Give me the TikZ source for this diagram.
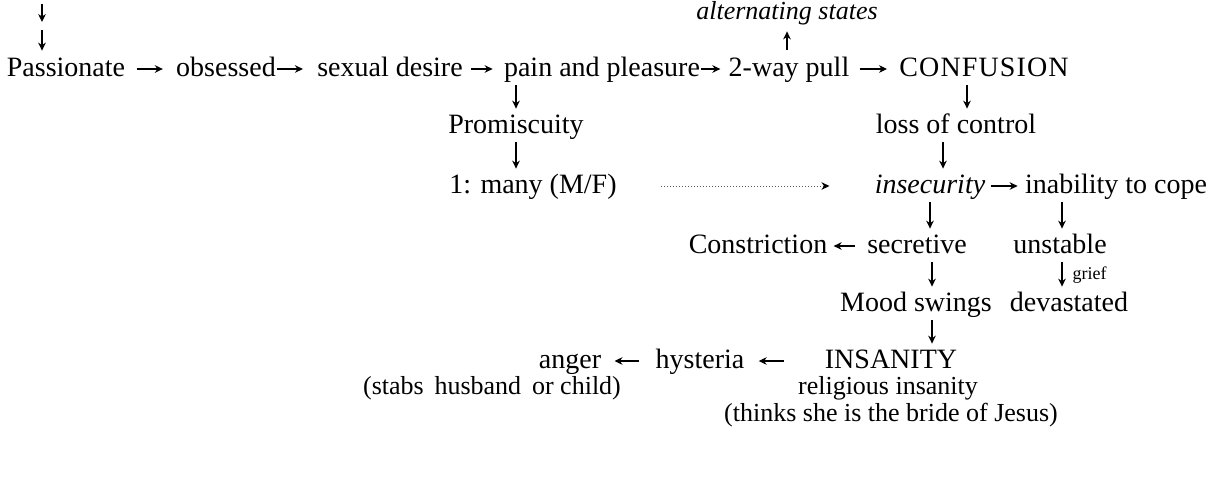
\documentclass[tikz,border=0pt]{standalone}
\usepackage{fontspec}
\setmainfont{Liberation Serif}
\usetikzlibrary{arrows.meta,calc}
\newcommand{\fs}{\fontsize{14}{17}\selectfont}
\newcommand{\fsb}{\fontsize{13}{16}\selectfont}
\newcommand{\fsmall}{\fontsize{9}{10}\selectfont}
\tikzset{
  lbl/.style={anchor=base, inner sep=0pt, font=\fs, text height=9.5pt, text depth=2.5pt},
  sublbl/.style={lbl, font=\fsb},
  arr/.style={-{Stealth[length=4pt,width=3.8pt]}, line width=0.6pt},
  varr/.style={arr, shorten <=2pt, shorten >=2.5pt},
  dotarr/.style={-{Stealth[length=4pt,width=3.8pt,color=black]}, densely dotted, line width=0.5pt, draw=black!65},
}
\begin{document}
\begin{tikzpicture}[x=0.5pt,y=-0.5pt]
\useasboundingbox (0,0) rectangle (1213,477);
% nodes
\node[lbl, font=\fsb\itshape] (alt) at (787,19) {alternating states};
\node[lbl] (pass) at (66,76) {Passionate};
\node[lbl] (obs) at (226,76) {obsessed};
\node[lbl] (sex) at (390,76) {sexual desire};
\node[lbl] (pp) at (602,76) {pain and pleasure};
\node[lbl] (two) at (789,76) {2-way pull};
\node[lbl] (conf) at (984,76) {\addfontfeature{LetterSpace=4}CONFUSION};
\node[lbl] (prom) at (516,133) {Promiscuity};
\node[lbl] (loss) at (956,133) {loss of control};
\node[lbl] (many) at (533,193) {1: many (M/F)};
\node[lbl, font=\fs\itshape] (ins) at (930,193) {insecurity};
\node[lbl] (inab) at (1116,193) {inability to cope};
\node[lbl] (con) at (758,253) {Constriction};
\node[lbl] (sec) at (917,253) {secretive};
\node[lbl] (unst) at (1060,253) {unstable};
\node[lbl] (mood) at (916,311) {Mood swings};
\node[lbl] (dev) at (1069,311) {devastated};
\node[lbl] (insan) at (891,368) {INSANITY};
\node[lbl] (hyst) at (700,368) {hysteria};
\node[lbl] (anger) at (570,368) {anger};
\node[sublbl] (stabs) at (492,394) {(stabs\, husband\, or child)};
\node[sublbl] (rel) at (888,394) {religious insanity};
\node[sublbl] (jes) at (891,421) {(thinks she is the bride of Jesus)};
% free ends at top left
\coordinate (tA) at (42,4);
\coordinate (tB) at (42,22);
\coordinate (tC) at (42,30);
% helper coordinates for arrow columns
\coordinate (cl) at ($(loss.north)+(5.5pt,0)$);
\coordinate (ci) at ($(loss.north)+(-6.5pt,0)$);
\coordinate (cs) at ($(sec.north)+(7.5pt,0)$);
\coordinate (cm) at ($(mood.south)+(8pt,0)$);
\coordinate (cu) at ($(unst.north)+(1pt,0)$);
% top-left arrows
\draw[arr] (tA) -- (tB);
\draw[arr, shorten >=3pt] (tC) -- (tC |- pass.north);
% main row
\draw[arr, shorten <=5.5pt, shorten >=6.5pt] (pass.east) -- (obs.west);
\draw[arr, shorten <=0.5pt, shorten >=7pt] (obs.east) -- (sex.west);
\draw[arr, shorten <=4pt, shorten >=5.5pt] (sex.east) -- (pp.west);
\draw[arr, shorten <=0.5pt, shorten >=4pt] (pp.east) -- (two.west);
\draw[arr, shorten <=5pt, shorten >=6pt] (two.east) -- (conf.west);
% up to alternating states
\draw[arr, shorten <=3.5pt, shorten >=3.5pt] (two.north -| alt.south) -- (alt.south);
% branches
\draw[varr] (prom.north |- pp.south) -- (prom.north);
\draw[varr] (prom.south) -- (prom.south |- many.north);
\draw[varr] (cl |- conf.south) -- (cl);
\draw[varr] (ci |- loss.south) -- (ci |- ins.north);
\draw[dotarr, shorten <=22pt, shorten >=22.5pt] (many.east) -- (ins.west);
\draw[arr, shorten <=2.5pt, shorten >=3.5pt] (ins.east) -- (inab.west);
\draw[varr] (ins.south) -- (ins.south |- sec.north);
\draw[varr] (cu |- inab.south) -- (cu);
\draw[arr, shorten <=6pt, shorten >=3pt] (sec.west) -- (con.east);
\draw[varr] (cs |- sec.south) -- (cs |- mood.north);
\draw[varr] (cu |- unst.south) -- (cu |- dev.north)
  node[midway, right=5pt, inner sep=0pt, font=\fsmall] (grief) {grief};
\draw[varr] (cm) -- (cm |- insan.north);
\draw[arr, shorten <=20.5pt, shorten >=7pt] (insan.west) -- (hyst.east);
\draw[arr, shorten <=8pt, shorten >=6.5pt] (hyst.west) -- (anger.east);
\end{tikzpicture}
\end{document}
